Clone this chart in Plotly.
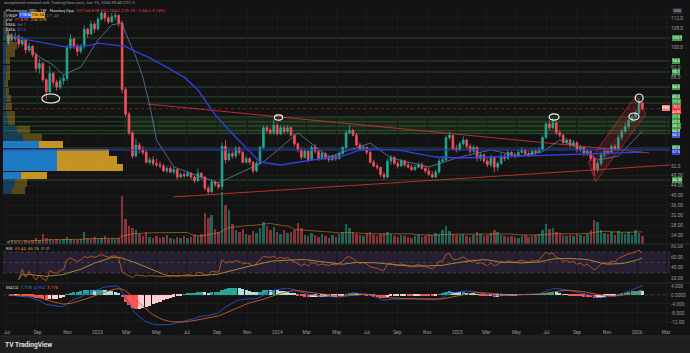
import pandas as pd
import numpy as np
import plotly.graph_objects as go

# ---------------- DATA (weekly candles) ----------------
START = pd.Timestamp("2022-07-04")
first_open = 102.0
closes = [
    105, 103.5, 104.5, 101.5, 103, 99, 100.5, 97, 91.5, 93.5,
    87, 82, 89.5, 86, 84, 86.5, 87.5, 100, 103.5, 100.5,
    98.5, 100.5, 107.5, 105.5, 109.5, 107.5, 111.5, 114, 112, 110.5,
    112.5, 113, 110, 83, 73, 65.5, 56, 60.5, 58.5, 57.5,
    53.5, 54.5, 53, 52.5, 52, 50, 51, 49.5, 50.5, 47.5,
    48.5, 48, 49, 47.5, 46, 49, 47.5, 43, 41.5, 45.5,
    44.5, 43.5, 60, 54.5, 57, 56, 59, 57.5, 53.5, 55,
    53.5, 50, 53, 59.5, 67.5, 66.5, 65.5, 68.5, 65, 67.5,
    66, 67.5, 64.5, 61, 58.5, 55.5, 58, 54.5, 59.5, 58,
    55, 57, 55.5, 54.5, 56, 55, 57, 59.5, 65.5, 66.5,
    64.5, 60.5, 58.5, 59.5, 57.5, 53.5, 52, 51.5, 48.5, 47.5,
    54, 55.5, 53, 52, 54, 52.5, 51.5, 50.5, 51.5, 52.5,
    51, 50, 48.5, 47.5, 49.5, 54, 54.5, 63.5, 64.5, 59,
    58.5, 61, 62.5, 60, 58, 59.5, 55, 56.5, 54, 52.5,
    55.5, 51.5, 53, 56, 55, 57.5, 56.5, 56, 57.5, 58.5,
    57, 56.5, 58, 57.5, 58.5, 63.5, 69, 67.5, 69.5, 65.5,
    64.5, 61.5, 62.5, 60.5, 61.5, 58.5, 59.5, 57, 58, 55,
    50.5, 53, 56.5, 58, 57.5, 60, 59, 63.5, 66, 68,
    70.5, 72, 73.5, 77.5, 75.2]
highs = [
    107, 106, 106, 105.5, 104.5, 103.5, 102, 101, 98, 95.5,
    94, 87.5, 92.5, 90, 87, 88, 89, 101, 105.5, 104,
    101.5, 101.5, 109, 108, 111, 110.5, 112.5, 116, 114.5, 113,
    114, 115, 113.5, 111, 84, 74, 66, 63, 61.5, 60,
    58.5, 55.5, 56, 55, 54, 53, 52, 52, 51.5, 51,
    49.5, 49.5, 50, 49.5, 48, 51, 49.5, 48, 44, 46.5,
    46, 45.5, 61.5, 62.5, 59, 58, 60, 60, 58, 56,
    55.5, 54, 54, 60, 68.5, 68.5, 67.5, 71, 69.5, 68.5,
    68.5, 68.5, 68, 65, 61.5, 59.5, 59, 58.5, 60.5, 61,
    58.5, 58, 57.5, 56.5, 56.5, 56.5, 58, 60, 66.5, 68.5,
    67, 65.5, 61.5, 60.5, 60, 58.5, 54.5, 53, 51.5, 49.5,
    55, 56.5, 56, 54, 55, 54.5, 53.5, 52.5, 52.5, 53.5,
    53.5, 52, 51.5, 50, 50.5, 55, 56, 64.5, 66, 64.5,
    60.5, 62, 64, 63, 61, 60.5, 60, 57.5, 57, 55,
    56.5, 56, 54, 57, 57, 58.5, 58, 57.5, 58.5, 59.5,
    59, 58, 59, 59, 59.5, 64.5, 70, 70.5, 71.5, 70,
    66.5, 65, 63.5, 63, 62.5, 62, 60.5, 60, 59, 58.5,
    55.5, 54, 57.5, 59, 59, 61, 61, 64.5, 67, 69.5,
    71.5, 73, 74.5, 79.5, 78]
lows = [
    101, 102, 102.5, 100, 100.5, 97.5, 98, 96, 90, 89.5,
    86, 78.7, 81, 84.5, 82.5, 83, 85, 86.5, 99, 99.5,
    96.5, 97.5, 99.5, 104, 105, 106, 107, 111, 110.5, 109.5,
    110, 111, 108.5, 81.5, 72, 64.5, 55, 55.5, 57, 56.5,
    53, 52.5, 52, 51.5, 51, 49.5, 49, 49, 48.5, 46.5,
    47, 47, 47.5, 46.5, 45, 45.5, 46.5, 42, 40.5, 41,
    43.5, 42.5, 42, 53, 54, 55, 55, 56.5, 53, 53,
    52.5, 49, 49.5, 52.5, 59, 65.5, 64.5, 64.5, 64.5, 64.5,
    65, 65.5, 64, 60, 57.5, 54.5, 55, 53.5, 54, 57,
    54, 54.5, 54.5, 53.5, 54, 54, 54.5, 56.5, 59, 65,
    64, 60, 58, 58, 56.5, 53, 51.5, 50.5, 47.5, 46.5,
    47, 52.5, 52.5, 51, 51.5, 51.5, 51, 50, 50, 51,
    50.5, 49, 48, 47, 47, 49, 53.5, 54, 62.5, 58.5,
    57.5, 58, 60, 59, 57, 57, 54, 54, 53, 51.5,
    51.5, 49.5, 50, 52.5, 54, 54.5, 55.5, 55, 55.5, 57,
    56, 55.5, 56, 56.5, 57, 58, 63, 66.5, 67, 64.5,
    63.5, 60.5, 60.5, 59.5, 59.5, 57.5, 57.5, 56, 56, 54,
    48, 49.5, 52, 55.5, 56.5, 57, 58, 58.5, 62.5, 65.5,
    67, 69.5, 71, 73, 74.5]
volumes = [
    3, 4, 3, 3, 2, 4, 3, 4, 6, 4,
    10, 6, 5, 4, 5, 4, 5, 7, 5, 4,
    4, 5, 12, 6, 5, 7, 5, 6, 8, 5,
    6, 5, 6, 48, 25, 18, 16, 14, 10, 8,
    12, 7, 6, 8, 6, 7, 9, 6, 5, 7,
    6, 8, 6, 7, 9, 8, 10, 31, 26, 29,
    15, 12, 52, 39, 34, 20, 14, 12, 15, 10,
    9, 13, 11, 16, 22, 18, 14, 17, 12, 10,
    14, 11, 12, 14, 21, 16, 9, 8, 11, 9,
    7, 10, 8, 6, 9, 7, 10, 12, 20, 16,
    12, 10, 9, 8, 11, 12, 9, 8, 10, 11,
    12, 10, 8, 7, 9, 8, 7, 6, 8, 9,
    7, 8, 10, 9, 11, 10, 14, 18, 13, 10,
    9, 9, 10, 8, 7, 9, 12, 10, 8, 9,
    11, 14, 12, 9, 8, 7, 8, 7, 6, 8,
    9, 7, 8, 9, 10, 14, 20, 15, 16, 12,
    11, 9, 8, 9, 8, 10, 9, 8, 10, 14,
    24, 22, 14, 11, 10, 12, 9, 13, 11, 10,
    12, 9, 14, 11, 8]

# moving averages as drawn (week index, value)
long_ma_wk = [0, 6, 17, 24, 26, 31, 34, 36, 41, 46, 51, 55, 60, 64, 69, 73, 79, 88, 96, 103, 113, 124, 131, 151, 171, 184]
long_ma_val = [105, 103, 100.2, 101, 101.8, 101, 100.5, 99, 95.8, 92, 88, 82.8, 72.7, 66.6, 59.5, 53.6, 52.4, 54.4,
               55.6, 58.9, 58.5, 55.6, 55.2, 56, 57.1, 57.6]
short_ma_wk = [3, 9, 13, 16, 21, 26, 30, 33, 34, 37, 39, 41, 43, 48, 56, 61, 64, 74, 84, 93, 105, 111, 122, 131, 140,
               148, 155, 160, 166, 171, 177, 184]
short_ma_val = [103.1, 96.2, 92.9, 88.9, 92.1, 103.1, 109.2, 110, 105.9, 96.2, 88.1, 76.7, 62.5, 51.6, 47.5, 45.1,
                47.1, 53.6, 65.4, 55.6, 61.3, 55.2, 51.6, 55.6, 58.5, 56, 57.7, 62.5, 59.3, 54.4, 56, 66.1]

# volume profile (price bin, up volume, down volume)
vp_price = [42.0, 45.1, 48.2, 51.3, 54.4, 57.5, 60.6, 63.7, 66.8, 69.9, 73.0, 76.1, 79.2, 82.3, 85.4, 88.5, 91.6,
            94.7, 97.8, 100.9, 104.0, 107.1, 110.2, 113.3]
vp_up = [9, 12, 18, 54, 54, 54, 36, 20, 14, 5, 4, 3, 4, 3, 2, 3, 4, 3, 3, 4, 3, 2, 2, 1]
vp_down = [13, 12, 26, 66, 60, 52, 24, 19, 13, 7, 8, 6, 4, 3, 3, 4, 3, 4, 9, 10, 6, 3, 2, 2]
vp_value_area = (48.0, 61.0)
poc_price = 58.5

# horizontal levels and zone
levels = [115.6, 103.9, 94.6, 90.1, 84.0, 80.0, 77.5, 71.9, 69.9, 68.2, 66.3, 65.1, 59.3, 46.3]
labelled_levels = [103.9, 94.6, 90.1, 84.0, 80.0, 77.5, 71.9, 69.9, 68.2, 66.3, 59.3, 46.3]
label_nudge = {77.5: 0.45}         # axis tags pushed apart like on the source
zone = (33.8, 65.1, 71.9)          # start week, low, high
last_price = 75.2
short_ma_tag_price = 64.6          # where the axis tag of the short MA is pushed to

# drawings (week index, price)
trend_down = [(40.4, 77.1), (185.9, 57.3)]
trend_up = [(47.7, 39.4), (192.3, 52.4)]
channel = [(168.3, 53.6), (182.2, 80.6), (185.0, 73.0), (170.4, 45.6)]
ellipses = [(9.7, 14.9, 77.5, 81.2), (77.2, 79.6, 70.6, 72.7), (156.9, 159.8, 70.6, 73.1),
            (181.9, 184.2, 77.9, 81.2), (180.1, 183.0, 70.6, 73.5)]

price_ticks = [112, 108, 100, 92, 88, 52, 48, 44, 40, 36, 32, 28, 24]
price_tick_text = ["112.0", "108.0", "100.0", "92.0", "88.0", "52.0", "48.00", "44.00", "40.00", "36.00",
                   "32.00", "28.00", "24.00"]
rsi_ticks = [80, 60, 40, 20]
macd_ticks = [4, 0, -4, -8, -12]
macd_tick_text = ["4.000", "0.0000", "-4.000", "-8.000", "-12.00"]
time_ticks = ["2022-07-01", "2022-09-01", "2022-11-01", "2023-01-01", "2023-03-01", "2023-05-01", "2023-07-01",
              "2023-09-01", "2023-11-01", "2024-01-01", "2024-03-01", "2024-05-01", "2024-07-01", "2024-09-01",
              "2024-11-01", "2025-01-01", "2025-03-01", "2025-05-01", "2025-07-01", "2025-09-01", "2025-11-01",
              "2026-01-01", "2026-03-01"]
time_text = ["Jul", "Sep", "Nov", "2023", "Mar", "May", "Jul", "Sep", "Nov", "2024", "Mar", "May", "Jul", "Sep",
             "Nov", "2025", "Mar", "May", "Jul", "Sep", "Nov", "2026", "Mar"]

# ---------------- geometry helpers ----------------
W, H = 690, 353
L, R, T, B = 3, 20, 10, 25
PW, PH = W - L - R, H - T - B


def py(ypx):
    return (H - B - ypx) / PH


def px(xpx):
    return (xpx - L) / PW


def wk(i):
    return START + pd.Timedelta(days=7 * i)


dates = [wk(i) for i in range(len(closes))]
opens = [first_open] + closes[:-1]
FONT = "Roboto"
UP, DN = "#22ab94", "#f7525f"

# ---------------- indicators ----------------
cs = pd.Series(closes, dtype=float)
d = cs.diff().fillna(0)
ag = d.clip(lower=0).ewm(alpha=1 / 14, adjust=True).mean()
al = (-d).clip(lower=0).ewm(alpha=1 / 14, adjust=True).mean()
rsi = 100 - 100 / (1 + ag / al.replace(0, np.nan))
rsi.iloc[:3] = np.nan
rsi_ma = rsi.rolling(14, min_periods=1).mean()
ema12 = cs.ewm(span=12, adjust=False).mean()
ema26 = cs.ewm(span=26, adjust=False).mean()
macd = ema12 - ema26
signal = macd.ewm(span=9, adjust=False).mean()
hist = macd - signal
hcol = []
for i, h in enumerate(hist):
    prev = hist.iloc[i - 1] if i > 0 else 0
    if h >= 0:
        hcol.append("#26a69a" if h >= prev else "#b2dfdb")
    else:
        hcol.append("#ff5252" if h < prev else "#ffcdd2")
vol_ma = pd.Series(volumes, dtype=float).rolling(20, min_periods=1).mean()
vol_col = ["rgba(34,171,148,0.55)" if c >= o else "rgba(247,82,95,0.5)" for o, c in zip(opens, closes)]

fig = go.Figure()

# volume profile
va = [(vp_value_area[0] <= p <= vp_value_area[1]) for p in vp_price]
fig.add_trace(go.Bar(y=vp_price, x=vp_up, base=0, orientation="h", width=2.9, xaxis="x4", yaxis="y",
                     marker=dict(color=["rgba(33,150,243,0.8)" if v else "rgba(33,150,243,0.32)" for v in va],
                                 line=dict(width=0)), hoverinfo="skip", showlegend=False))
fig.add_trace(go.Bar(y=vp_price, x=vp_down, base=vp_up, orientation="h", width=2.9, xaxis="x4", yaxis="y",
                     marker=dict(color=["rgba(240,180,40,0.8)" if v else "rgba(240,180,40,0.32)" for v in va],
                                 line=dict(width=0)), hoverinfo="skip", showlegend=False))

# volume
fig.add_trace(go.Bar(x=dates, y=volumes, xaxis="x", yaxis="y4", marker=dict(color=vol_col, line=dict(width=0)),
                     width=5 * 86400000, showlegend=False))
fig.add_trace(go.Scatter(x=dates, y=vol_ma, xaxis="x", yaxis="y4", mode="lines",
                         line=dict(color="rgba(230,130,40,0.7)", width=0.8), showlegend=False))

# channel
chx = [wk(p[0]) for p in channel] + [wk(channel[0][0])]
chy = [p[1] for p in channel] + [channel[0][1]]
fig.add_trace(go.Scatter(x=chx, y=chy, mode="lines", fill="toself", fillcolor="rgba(242,54,69,0.16)",
                         line=dict(color="rgba(242,54,69,0.65)", width=0.8), showlegend=False))
mid = [((channel[0][0] + channel[3][0]) / 2, (channel[0][1] + channel[3][1]) / 2),
       ((channel[1][0] + channel[2][0]) / 2, (channel[1][1] + channel[2][1]) / 2)]
fig.add_trace(go.Scatter(x=[wk(m[0]) for m in mid], y=[m[1] for m in mid], mode="lines",
                         line=dict(color="rgba(242,54,69,0.6)", width=0.6, dash="dash"), showlegend=False))

# trend lines
for tl in (trend_down, trend_up):
    fig.add_trace(go.Scatter(x=[wk(p[0]) for p in tl], y=[p[1] for p in tl], mode="lines",
                             line=dict(color="rgba(229,57,53,0.85)", width=0.9), showlegend=False))

# moving averages
fig.add_trace(go.Scatter(x=[wk(i) for i in short_ma_wk], y=short_ma_val, mode="lines",
                         line=dict(color="#5d7fa8", width=0.8), showlegend=False))
fig.add_trace(go.Scatter(x=[wk(i) for i in long_ma_wk], y=long_ma_val, mode="lines",
                         line=dict(color="#2f3fe0", width=1.4), showlegend=False))

# candles
fig.add_trace(go.Candlestick(x=dates, open=opens, high=highs, low=lows, close=closes, xaxis="x", yaxis="y",
                             increasing=dict(line=dict(color=UP, width=0.8), fillcolor=UP),
                             decreasing=dict(line=dict(color=DN, width=0.8), fillcolor=DN),
                             whiskerwidth=0, showlegend=False))

# RSI
fig.add_trace(go.Scatter(x=dates, y=rsi_ma, xaxis="x2", yaxis="y2", mode="lines",
                         line=dict(color="#c9a227", width=0.8), showlegend=False))
fig.add_trace(go.Scatter(x=dates, y=rsi, xaxis="x2", yaxis="y2", mode="lines",
                         line=dict(color="#d0602a", width=0.8), showlegend=False))

# MACD
fig.add_trace(go.Bar(x=dates, y=hist, xaxis="x3", yaxis="y3", marker=dict(color=hcol, line=dict(width=0)),
                     width=6.5 * 86400000, showlegend=False))
fig.add_trace(go.Scatter(x=dates, y=macd, xaxis="x3", yaxis="y3", mode="lines",
                         line=dict(color="#2a4fd0", width=0.9), showlegend=False))
fig.add_trace(go.Scatter(x=dates, y=signal, xaxis="x3", yaxis="y3", mode="lines",
                         line=dict(color="#c8601e", width=0.9), showlegend=False))

# ---------------- shapes ----------------
shapes = []
xr0, xr1 = "2022-06-23", "2026-03-09"
shapes.append(dict(type="rect", xref="x", yref="y", x0=wk(zone[0]), x1=xr1, y0=zone[1], y1=zone[2],
                   fillcolor="rgba(76,175,80,0.10)", line=dict(width=0), layer="below"))
for lv in levels:
    shapes.append(dict(type="line", xref="paper", yref="y", x0=0, x1=1, y0=lv, y1=lv,
                       line=dict(color="rgba(76,175,80,0.38)", width=1), layer="below"))
shapes.append(dict(type="line", xref="paper", yref="y", x0=0, x1=1, y0=poc_price, y1=poc_price,
                   line=dict(color="rgba(40,60,200,0.9)", width=1.3)))
shapes.append(dict(type="line", xref="paper", yref="y", x0=0, x1=1, y0=last_price, y1=last_price,
                   line=dict(color="rgba(242,54,69,0.55)", width=0.8, dash="dot")))
for e in ellipses:
    shapes.append(dict(type="circle", xref="x", yref="y", x0=wk(e[0]), x1=wk(e[1]), y0=e[2], y1=e[3],
                       line=dict(color="white", width=1.1)))
# RSI band
shapes.append(dict(type="rect", xref="paper", yref="y2", x0=0, x1=1, y0=30, y1=70,
                   fillcolor="rgba(126,87,194,0.18)", line=dict(width=0), layer="below"))
for lv in (70, 50, 30):
    shapes.append(dict(type="line", xref="paper", yref="y2", x0=0, x1=1, y0=lv, y1=lv,
                       line=dict(color="rgba(120,123,134,0.6)", width=0.6, dash="dot")))
shapes.append(dict(type="line", xref="paper", yref="y3", x0=0, x1=1, y0=0, y1=0,
                   line=dict(color="rgba(120,123,134,0.5)", width=0.6, dash="dot")))
# pane separators
for ysep in (244, 283):
    shapes.append(dict(type="line", xref="paper", yref="paper", x0=px(0), x1=px(W), y0=py(ysep), y1=py(ysep),
                       line=dict(color="#2a2a2a", width=1)))
# bottom strip
shapes.append(dict(type="rect", xref="paper", yref="paper", x0=px(0), x1=px(W), y0=py(336), y1=py(H + 2),
                   fillcolor="#1f1f1f", line=dict(width=0)))
shapes.append(dict(type="line", xref="paper", yref="paper", x0=px(0), x1=px(W), y0=py(336), y1=py(336),
                   line=dict(color="#2c2c2c", width=1)))

# ---------------- annotations ----------------
ann = []


def txt(xpx, ypx, text, size=4.6, color="#b2b5be", bg=None, anchor="left"):
    a = dict(xref="paper", yref="paper", x=px(xpx), y=py(ypx), text=text, showarrow=False, xanchor=anchor,
             yanchor="middle", font=dict(size=size, color=color, family=FONT))
    if bg:
        a.update(bgcolor=bg, borderpad=0.3, borderwidth=0)
    ann.append(a)


def tag(price, text, bg, fg="white", size=3.9, yanchor="middle"):
    ann.append(dict(xref="paper", yref="y", x=px(672), y=price, text=text, showarrow=False, xanchor="left",
                    yanchor=yanchor, bgcolor=bg, borderpad=0.3, borderwidth=0,
                    font=dict(size=size, color=fg, family=FONT)))


txt(2, 2.8, "awsiplexist created with TradingView.com, Jan 15, 2026 09:40 UTC-5", 4.3, "#9598a1")
txt(4, 10.7, "Photronics (SD) · 1W · Nasdaq Opp  <span style='color:#f23645'>O77.64 H78.10 L74.52 C75.20 "
             "−2.44 (−3.14%)</span>", 4.4, "#d1d4dc")
txt(4, 15.3, "VWAP", 4.2, "#d1d4dc")
txt(18.5, 15.3, "118.64", 4.2, "white", bg="#2962ff")
txt(31, 15.3, "156.54", 4.2, "#131313", bg="#f0a020")
txt(43.5, 15.3, "271.43", 4.2, "#787b86")
txt(4, 19.9, "Vol  <span style='color:#f7525f'>71.87K</span>  <span style='color:#e6a23c'>256.57K</span>", 4.4,
    "#d1d4dc")
txt(4, 24.5, "SMA  <span style='color:#5d7fa8'>%.1f</span>" % short_ma_val[-1], 4.4, "#d1d4dc")
txt(4, 29.1, "SMA  <span style='color:#4a5cf0'>%.1f</span>" % long_ma_val[-1], 4.4, "#d1d4dc")
txt(4, 249, "RSI  <span style='color:#e07b39'>69.44</span>  <span style='color:#d4b73d'>65.76</span>  ∅  ∅",
    4.4, "#d1d4dc")
txt(4, 287, "MACD  <span style='color:#26a69a'>1.778</span>  <span style='color:#2962ff'>4.954</span>  "
            "<span style='color:#ff6d00'>3.176</span>", 4.4, "#d1d4dc")
txt(3, 344.5, "<b>TV</b> <b>TradingView</b>", 6.6, "#e0e0e0")
txt(673, 11, "USD", 4.0, "#d1d4dc", bg="#2a2e39")

for lv in labelled_levels:
    tag(lv + label_nudge.get(lv, 0), ("%.2f" % lv) if lv < 50 else ("%.1f" % lv), "#3f9b45")
tag(short_ma_tag_price, "%.1f" % short_ma_val[-1], "#3b5bdb")
tag(long_ma_val[-1], "%.1f" % long_ma_val[-1], "#2f3fe0")
tag(last_price + 1.48, "%.1f<br>4d 8h" % last_price, "#f23645", size=3.4, yanchor="top")
ann.append(dict(xref="paper", yref="y", x=px(670), y=last_price + 0.3, text="PRE", showarrow=False,
                xanchor="right", yanchor="middle", bgcolor="#f77c80", borderpad=0.3, borderwidth=0,
                font=dict(size=3.8, color="white", family=FONT)))

# ---------------- layout ----------------
axis_font = dict(size=4.8, color="#9598a1", family=FONT)
grid = "#1b1b1b"
xcommon = dict(type="date", range=[xr0, xr1], tickvals=time_ticks, ticktext=time_text, showgrid=True,
               gridcolor=grid, gridwidth=0.5, zeroline=False, showline=False, ticks="", tickfont=axis_font)
fig.update_layout(
    width=W, height=H, margin=dict(l=L, r=R, t=T, b=B),
    paper_bgcolor="#131313", plot_bgcolor="#131313",
    barmode="overlay", bargap=0, showlegend=False, hovermode=False,
    font=dict(family=FONT, color="#9598a1"),
    xaxis=dict(**xcommon, domain=[0, 1], anchor="y", showticklabels=False, rangeslider=dict(visible=False)),
    xaxis2=dict(**xcommon, domain=[0, 1], anchor="y2", matches="x", showticklabels=False),
    xaxis3=dict(**xcommon, domain=[0, 1], anchor="y3", matches="x", showticklabels=True),
    xaxis4=dict(range=[0, PW], overlaying="x", anchor="y", visible=False),
    yaxis=dict(domain=[py(244), 1], range=[20.35, 115.24], side="right", tickvals=price_ticks,
               ticktext=price_tick_text, tickfont=axis_font, showgrid=True, gridcolor=grid, gridwidth=0.5,
               zeroline=False, ticks=""),
    yaxis4=dict(domain=[py(244), 1], range=[0, 234], overlaying="y", visible=False),
    yaxis2=dict(domain=[py(283), py(244)], range=[11, 85.2], side="right", tickvals=rsi_ticks,
                ticktext=["80.00", "60.00", "40.00", "20.00"], tickfont=axis_font, showgrid=False,
                zeroline=False, ticks=""),
    yaxis3=dict(domain=[0, py(283)], range=[-14.67, 5.33], side="right", tickvals=macd_ticks,
                ticktext=macd_tick_text, tickfont=axis_font, showgrid=True, gridcolor=grid, gridwidth=0.5,
                zeroline=False, ticks=""),
    shapes=shapes, annotations=ann,
)

fig.write_html("out.html")
